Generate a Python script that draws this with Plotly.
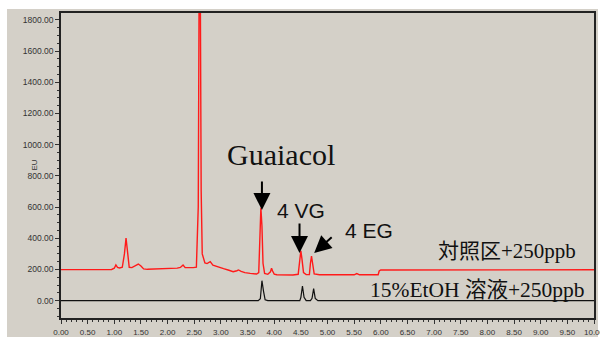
import plotly.graph_objects as go

# ---- data ----
red_time = [0.00, 0.50, 0.95, 1.00, 1.03, 1.06, 1.10, 1.15, 1.19, 1.22, 1.25, 1.28, 1.33,
            1.40, 1.45, 1.50, 1.55, 1.62, 1.75, 1.90, 2.05, 2.18, 2.24, 2.29, 2.33, 2.40,
            2.48, 2.54, 2.575, 2.59, 2.60, 2.615, 2.63, 2.65, 2.70, 2.74, 2.80, 2.85, 2.95,
            3.05, 3.15, 3.23, 3.30, 3.33, 3.38, 3.45, 3.55, 3.67, 3.71, 3.73, 3.75, 3.77,
            3.79, 3.82, 3.88, 3.93, 3.95, 3.97, 4.00, 4.05, 4.20, 4.35, 4.45, 4.48, 4.50,
            4.52, 4.55, 4.60, 4.66, 4.68, 4.70, 4.72, 4.75, 4.85, 5.00, 5.30, 5.50, 5.55,
            5.60, 5.95, 5.97, 6.00, 7.00, 8.00, 9.00, 10.00]
red_eu = [199, 199, 200, 208, 229, 214, 210, 214, 300, 402, 320, 214, 212,
          228, 235, 222, 204, 201, 203, 201, 204, 209, 213, 229, 212, 210,
          212, 215, 600, 1900, 2200, 1900, 700, 300, 242, 238, 250, 228, 215,
          205, 195, 186, 192, 197, 188, 180, 175, 171, 180, 400, 595, 480,
          240, 175, 169, 185, 208, 190, 170, 166, 165, 165, 169, 260, 320,
          270, 180, 167, 168, 240, 286, 240, 172, 166, 165, 165, 166, 174,
          166, 166, 190, 197, 197, 197, 198, 198]

black_time = [0.00, 3.70, 3.74, 3.77, 3.80, 3.83, 3.88, 4.48, 4.50, 4.53, 4.56, 4.60,
              4.68, 4.71, 4.74, 4.77, 4.82, 10.00]
black_eu = [0, 0, 12, 128, 60, 6, 0, 0, 20, 94, 22, 0,
            0, 15, 77, 15, 0, 0]

x_ticks = [0.0, 0.5, 1.0, 1.5, 2.0, 2.5, 3.0, 3.5, 4.0, 4.5, 5.0, 5.5, 6.0, 6.5, 7.0,
           7.5, 8.0, 8.5, 9.0, 9.5, 10.0]
y_ticks = [0, 200, 400, 600, 800, 1000, 1200, 1400, 1600, 1800]

BG = "#d4d0c8"
SERIF = "Liberation Serif, Noto Sans CJK JP, serif"
SANS = "Liberation Sans, Arial, sans-serif"
NARROW = "Liberation Sans Narrow, Arial Narrow, Liberation Sans, sans-serif"

fig = go.Figure()
fig.add_trace(go.Scatter(x=black_time, y=black_eu, mode="lines",
                         line=dict(color="#111111", width=1.2), hoverinfo="skip"))
fig.add_trace(go.Scatter(x=red_time, y=red_eu, mode="lines",
                         line=dict(color="#ff1a1a", width=1.4), hoverinfo="skip"))

W, H = 600, 338
L, R, T, B = 61, 6, 13, 20
pw, ph = W - L - R, H - T - B

def px(x):
    return (x - L) / pw

def py(y):
    return (H - B - y) / ph

fig.add_shape(type="rect", xref="paper", yref="paper", layer="below",
              x0=px(7), x1=px(598), y0=py(337), y1=py(9),
              fillcolor=BG, line=dict(width=0))

ann = []
# peak labels
ann.append(dict(x=4.12, y=934, xref="x", yref="y", text="Guaiacol", showarrow=False,
                font=dict(family=SERIF, size=30, color="#111")))
ann.append(dict(x=4.51, y=581, xref="x", yref="y", text="4 VG", showarrow=False,
                font=dict(family=SANS, size=21, color="#111")))
ann.append(dict(x=5.77, y=453, xref="x", yref="y", text="4 EG", showarrow=False,
                font=dict(family=SANS, size=21, color="#111")))
# arrows
arrow_style = dict(showarrow=True, arrowhead=2, arrowsize=1.7, arrowwidth=2,
                   arrowcolor="#000", text="", xref="x", yref="y", standoff=0)
ann.append(dict(x=3.77, y=581, ax=0, ay=-30, **arrow_style))
ann.append(dict(x=4.475, y=306, ax=0, ay=-31, **arrow_style))
ann.append(dict(x=4.75, y=306, ax=19, ay=-17, **arrow_style))
# series labels
ann.append(dict(x=8.37, y=318, xref="x", yref="y", text="対照区+250ppb", showarrow=False,
                font=dict(family=SERIF, size=21, color="#111")))
ann.append(dict(x=7.81, y=70, xref="x", yref="y", text="15%EtOH 溶液+250ppb", showarrow=False,
                font=dict(family=SERIF, size=21.5, color="#111")))
# axis title
ann.append(dict(x=px(27), y=py(165), xref="paper", yref="paper", text="EU", showarrow=False,
                textangle=-90, font=dict(family=SANS, size=8, color="#333")))
fig.update_layout(annotations=ann)

fig.update_layout(
    width=W, height=H,
    margin=dict(l=L, r=R, t=T, b=B, pad=0, autoexpand=False),
    paper_bgcolor="white", plot_bgcolor=BG,
    showlegend=False,
    xaxis=dict(range=[0, 10], tickvals=x_ticks, tickformat=".2f",
               ticks="outside", ticklen=4, tickwidth=1, tickcolor="#333",
               minor=dict(dtick=0.1, ticks="outside", ticklen=2, tickcolor="#333"),
               showline=True, linecolor="#222", linewidth=1.5, mirror=True,
               showgrid=False, zeroline=False, ticklabeloverflow="allow",
               ticklabelstandoff=2, automargin=False,
               tickfont=dict(family=SANS, size=8, color="#333")),
    yaxis=dict(range=[-111, 1844], tickvals=y_ticks, tickformat=".2f",
               ticks="outside", ticklen=4, tickwidth=1, tickcolor="#333",
               minor=dict(dtick=50, ticks="outside", ticklen=2, tickcolor="#333"),
               showline=True, linecolor="#222", linewidth=1.5, mirror=True,
               showgrid=False, zeroline=False, automargin=False,
               tickfont=dict(family=NARROW, size=8.5, color="#333")),
)

fig.write_html("out.html", config={"displayModeBar": False},
               post_script="document.body.style.margin='0';document.body.style.overflow='hidden';")
